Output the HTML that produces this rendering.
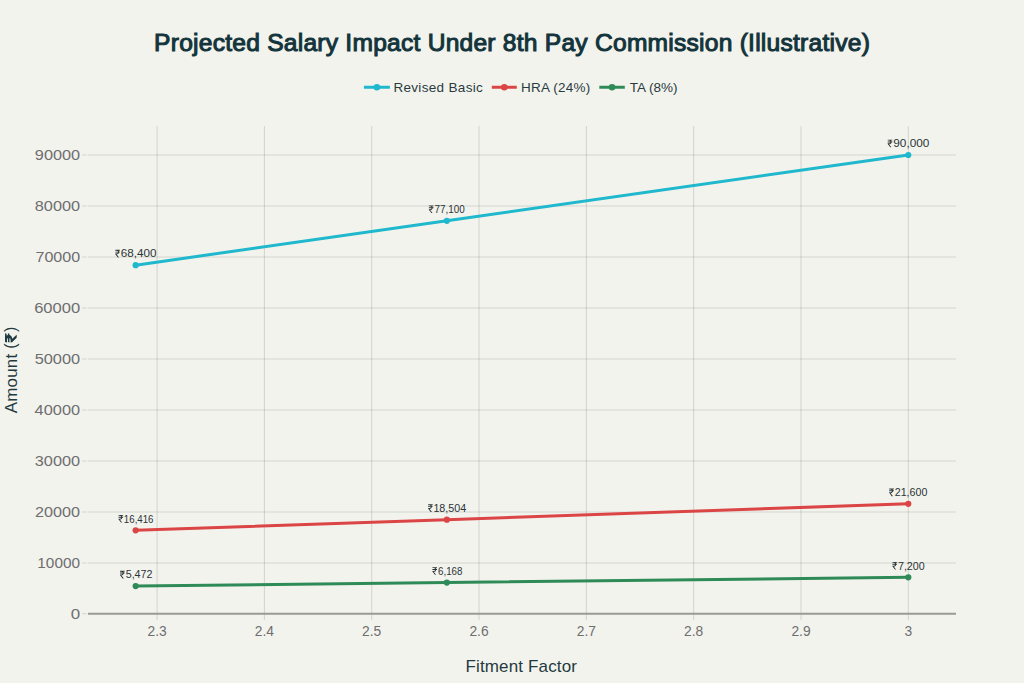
<!DOCTYPE html>
<html><head><meta charset="utf-8"><title>Projected Salary Impact</title>
<style>html,body{margin:0;padding:0;background:#F3F3EE;width:1024px;height:683px;overflow:hidden}</style>
</head><body>

<svg width="1024" height="683" viewBox="0 0 1024 683" style="display:block">
<rect width="1024" height="683" fill="#F3F3EE"/>
<line x1="88" y1="563" x2="956" y2="563" stroke="rgba(60,60,50,0.17)" stroke-width="1"/>
<line x1="88" y1="512" x2="956" y2="512" stroke="rgba(60,60,50,0.17)" stroke-width="1"/>
<line x1="88" y1="461" x2="956" y2="461" stroke="rgba(60,60,50,0.17)" stroke-width="1"/>
<line x1="88" y1="410" x2="956" y2="410" stroke="rgba(60,60,50,0.17)" stroke-width="1"/>
<line x1="88" y1="359" x2="956" y2="359" stroke="rgba(60,60,50,0.17)" stroke-width="1"/>
<line x1="88" y1="308" x2="956" y2="308" stroke="rgba(60,60,50,0.17)" stroke-width="1"/>
<line x1="88" y1="257" x2="956" y2="257" stroke="rgba(60,60,50,0.17)" stroke-width="1"/>
<line x1="88" y1="206" x2="956" y2="206" stroke="rgba(60,60,50,0.17)" stroke-width="1"/>
<line x1="88" y1="155" x2="956" y2="155" stroke="rgba(60,60,50,0.17)" stroke-width="1"/>
<line x1="82" y1="613.8" x2="87" y2="613.8" stroke="rgba(60,60,50,0.17)" stroke-width="1"/>
<line x1="82" y1="563" x2="87" y2="563" stroke="rgba(60,60,50,0.17)" stroke-width="1"/>
<line x1="82" y1="512" x2="87" y2="512" stroke="rgba(60,60,50,0.17)" stroke-width="1"/>
<line x1="82" y1="461" x2="87" y2="461" stroke="rgba(60,60,50,0.17)" stroke-width="1"/>
<line x1="82" y1="410" x2="87" y2="410" stroke="rgba(60,60,50,0.17)" stroke-width="1"/>
<line x1="82" y1="359" x2="87" y2="359" stroke="rgba(60,60,50,0.17)" stroke-width="1"/>
<line x1="82" y1="308" x2="87" y2="308" stroke="rgba(60,60,50,0.17)" stroke-width="1"/>
<line x1="82" y1="257" x2="87" y2="257" stroke="rgba(60,60,50,0.17)" stroke-width="1"/>
<line x1="82" y1="206" x2="87" y2="206" stroke="rgba(60,60,50,0.17)" stroke-width="1"/>
<line x1="82" y1="155" x2="87" y2="155" stroke="rgba(60,60,50,0.17)" stroke-width="1"/>
<line x1="157.10" y1="126" x2="157.10" y2="620" stroke="rgba(60,60,50,0.17)" stroke-width="1"/>
<line x1="264.41" y1="126" x2="264.41" y2="620" stroke="rgba(60,60,50,0.17)" stroke-width="1"/>
<line x1="371.73" y1="126" x2="371.73" y2="620" stroke="rgba(60,60,50,0.17)" stroke-width="1"/>
<line x1="479.04" y1="126" x2="479.04" y2="620" stroke="rgba(60,60,50,0.17)" stroke-width="1"/>
<line x1="586.36" y1="126" x2="586.36" y2="620" stroke="rgba(60,60,50,0.17)" stroke-width="1"/>
<line x1="693.67" y1="126" x2="693.67" y2="620" stroke="rgba(60,60,50,0.17)" stroke-width="1"/>
<line x1="800.99" y1="126" x2="800.99" y2="620" stroke="rgba(60,60,50,0.17)" stroke-width="1"/>
<line x1="908.30" y1="126" x2="908.30" y2="620" stroke="rgba(60,60,50,0.17)" stroke-width="1"/>
<line x1="88" y1="613.8" x2="956" y2="613.8" stroke="#9A9A94" stroke-width="2"/>
<text transform="translate(70.64,619.00) scale(1.2190,1)" font-family='"Liberation Sans", sans-serif' font-size="13.9" fill="#6E6E6E" >0</text>
<text transform="translate(37.33,568.00) scale(1.1066,1)" font-family='"Liberation Sans", sans-serif' font-size="13.9" fill="#6E6E6E" >10000</text>
<text transform="translate(35.09,517.00) scale(1.1654,1)" font-family='"Liberation Sans", sans-serif' font-size="13.9" fill="#6E6E6E" >20000</text>
<text transform="translate(34.78,466.00) scale(1.1735,1)" font-family='"Liberation Sans", sans-serif' font-size="13.9" fill="#6E6E6E" >30000</text>
<text transform="translate(34.62,415.00) scale(1.1775,1)" font-family='"Liberation Sans", sans-serif' font-size="13.9" fill="#6E6E6E" >40000</text>
<text transform="translate(34.64,364.00) scale(1.1770,1)" font-family='"Liberation Sans", sans-serif' font-size="13.9" fill="#6E6E6E" >50000</text>
<text transform="translate(34.16,313.00) scale(1.1897,1)" font-family='"Liberation Sans", sans-serif' font-size="13.9" fill="#6E6E6E" >60000</text>
<text transform="translate(35.48,262.00) scale(1.1552,1)" font-family='"Liberation Sans", sans-serif' font-size="13.9" fill="#6E6E6E" >70000</text>
<text transform="translate(34.79,211.00) scale(1.1732,1)" font-family='"Liberation Sans", sans-serif' font-size="13.9" fill="#6E6E6E" >80000</text>
<text transform="translate(34.84,160.00) scale(1.1720,1)" font-family='"Liberation Sans", sans-serif' font-size="13.9" fill="#6E6E6E" >90000</text>
<text x="157.1" y="635.8" text-anchor="middle" font-family='"Liberation Sans", sans-serif' font-size="13.8" fill="#6E6E6E">2.3</text>
<text x="264.4" y="635.8" text-anchor="middle" font-family='"Liberation Sans", sans-serif' font-size="13.8" fill="#6E6E6E">2.4</text>
<text x="371.7" y="635.8" text-anchor="middle" font-family='"Liberation Sans", sans-serif' font-size="13.8" fill="#6E6E6E">2.5</text>
<text x="479.0" y="635.8" text-anchor="middle" font-family='"Liberation Sans", sans-serif' font-size="13.8" fill="#6E6E6E">2.6</text>
<text x="586.4" y="635.8" text-anchor="middle" font-family='"Liberation Sans", sans-serif' font-size="13.8" fill="#6E6E6E">2.7</text>
<text x="693.7" y="635.8" text-anchor="middle" font-family='"Liberation Sans", sans-serif' font-size="13.8" fill="#6E6E6E">2.8</text>
<text x="801.0" y="635.8" text-anchor="middle" font-family='"Liberation Sans", sans-serif' font-size="13.8" fill="#6E6E6E">2.9</text>
<text x="908.3" y="635.8" text-anchor="middle" font-family='"Liberation Sans", sans-serif' font-size="13.8" fill="#6E6E6E">3</text>
<text x="465.41" y="671.90" font-family='"Liberation Sans", sans-serif' font-size="17" letter-spacing="0.154" fill="#1F3A40" >Fitment Factor</text>
<g transform="translate(17.4,413.6) rotate(-90)"><text x="0.37" y="0.00" font-family='"Liberation Sans", sans-serif' font-size="17" letter-spacing="0.154" fill="#1F3A40" >Amount</text><text x="64.81" y="-1.50" font-family='"Liberation Sans", sans-serif' font-size="16" letter-spacing="0.000" fill="#1F3A40" >(</text><path d="M1099 1121H892C882 1183 862 1239 830 1286H1045L1100 1490H132L72 1240H344C468 1240 542 1194 576 1121H125L72 921H584C553 832 472 774 344 774H96L97 596L596 0H930V13L484 561L495 566C735 612 857 734 890 921H1045Z" fill="#1F3A40"  transform="translate(71.000,-0.700) scale(0.009144,-0.007852) translate(-72,0)"/><text x="81.51" y="-1.50" font-family='"Liberation Sans", sans-serif' font-size="16" letter-spacing="0.000" fill="#1F3A40" >)</text></g>
<text x="154.08" y="50.90" font-family='"Liberation Sans", sans-serif' font-size="24.6" letter-spacing="0.235" fill="#13343B" stroke="#13343B" stroke-width="1.05">Projected Salary Impact Under 8th Pay Commission (Illustrative)</text>
<path d="M135.64,265.16 L446.85,220.79 L908.30,155.00" fill="none" stroke="#1FB8CD" stroke-width="3" stroke-linejoin="round"/>
<circle cx="135.64" cy="265.16" r="3.1" fill="#1FB8CD"/>
<circle cx="446.85" cy="220.79" r="3.1" fill="#1FB8CD"/>
<circle cx="908.30" cy="155.00" r="3.1" fill="#1FB8CD"/>
<path d="M135.64,530.28 L446.85,519.63 L908.30,503.84" fill="none" stroke="#DB4545" stroke-width="3" stroke-linejoin="round"/>
<circle cx="135.64" cy="530.28" r="3.1" fill="#DB4545"/>
<circle cx="446.85" cy="519.63" r="3.1" fill="#DB4545"/>
<circle cx="908.30" cy="503.84" r="3.1" fill="#DB4545"/>
<path d="M135.64,586.09 L446.85,582.54 L908.30,577.28" fill="none" stroke="#2E8B57" stroke-width="3" stroke-linejoin="round"/>
<circle cx="135.64" cy="586.09" r="3.1" fill="#2E8B57"/>
<circle cx="446.85" cy="582.54" r="3.1" fill="#2E8B57"/>
<circle cx="908.30" cy="577.28" r="3.1" fill="#2E8B57"/>
<path d="M1053 1137H847C835 1205 809 1267 769 1319L1002 1317L1053 1490H109L58 1319H337C510 1319 611 1252 645 1137H108L58 964H650C620 837 509 774 337 774H73L77 648L606 0H841V12L354 610H359C675 610 821 764 850 964H1002Z" fill="#2A3436"  transform="translate(115.200,257.460) scale(0.004824,-0.005101) translate(-58,0)"/>
<text transform="translate(120.81,257.46) scale(1.0723,1)" font-family='"Liberation Sans", sans-serif' font-size="10.9" fill="#2A3436" >68,400</text>
<path d="M1053 1137H847C835 1205 809 1267 769 1319L1002 1317L1053 1490H109L58 1319H337C510 1319 611 1252 645 1137H108L58 964H650C620 837 509 774 337 774H73L77 648L606 0H841V12L354 610H359C675 610 821 764 850 964H1002Z" fill="#2A3436"  transform="translate(428.750,213.090) scale(0.004824,-0.005101) translate(-58,0)"/>
<text transform="translate(434.44,213.09) scale(0.9072,1)" font-family='"Liberation Sans", sans-serif' font-size="10.9" fill="#2A3436" >77,100</text>
<path d="M1053 1137H847C835 1205 809 1267 769 1319L1002 1317L1053 1490H109L58 1319H337C510 1319 611 1252 645 1137H108L58 964H650C620 837 509 774 337 774H73L77 648L606 0H841V12L354 610H359C675 610 821 764 850 964H1002Z" fill="#2A3436"  transform="translate(887.600,147.300) scale(0.004824,-0.005101) translate(-58,0)"/>
<text transform="translate(893.25,147.30) scale(1.0833,1)" font-family='"Liberation Sans", sans-serif' font-size="10.9" fill="#2A3436" >90,000</text>
<path d="M1053 1137H847C835 1205 809 1267 769 1319L1002 1317L1053 1490H109L58 1319H337C510 1319 611 1252 645 1137H108L58 964H650C620 837 509 774 337 774H73L77 648L606 0H841V12L354 610H359C675 610 821 764 850 964H1002Z" fill="#2A3436"  transform="translate(118.400,522.578) scale(0.004824,-0.005101) translate(-58,0)"/>
<text transform="translate(123.86,522.58) scale(0.8898,1)" font-family='"Liberation Sans", sans-serif' font-size="10.9" fill="#2A3436" >16,416</text>
<path d="M1053 1137H847C835 1205 809 1267 769 1319L1002 1317L1053 1490H109L58 1319H337C510 1319 611 1252 645 1137H108L58 964H650C620 837 509 774 337 774H73L77 648L606 0H841V12L354 610H359C675 610 821 764 850 964H1002Z" fill="#2A3436"  transform="translate(428.000,511.930) scale(0.004824,-0.005101) translate(-58,0)"/>
<text transform="translate(433.38,511.93) scale(0.9848,1)" font-family='"Liberation Sans", sans-serif' font-size="10.9" fill="#2A3436" >18,504</text>
<path d="M1053 1137H847C835 1205 809 1267 769 1319L1002 1317L1053 1490H109L58 1319H337C510 1319 611 1252 645 1137H108L58 964H650C620 837 509 774 337 774H73L77 648L606 0H841V12L354 610H359C675 610 821 764 850 964H1002Z" fill="#2A3436"  transform="translate(889.100,496.140) scale(0.004824,-0.005101) translate(-58,0)"/>
<text transform="translate(894.76,496.14) scale(0.9795,1)" font-family='"Liberation Sans", sans-serif' font-size="10.9" fill="#2A3436" >21,600</text>
<path d="M1053 1137H847C835 1205 809 1267 769 1319L1002 1317L1053 1490H109L58 1319H337C510 1319 611 1252 645 1137H108L58 964H650C620 837 509 774 337 774H73L77 648L606 0H841V12L354 610H359C675 610 821 764 850 964H1002Z" fill="#2A3436"  transform="translate(119.900,578.393) scale(0.004824,-0.005101) translate(-58,0)"/>
<text transform="translate(125.67,578.39) scale(0.9851,1)" font-family='"Liberation Sans", sans-serif' font-size="10.9" fill="#2A3436" >5,472</text>
<path d="M1053 1137H847C835 1205 809 1267 769 1319L1002 1317L1053 1490H109L58 1319H337C510 1319 611 1252 645 1137H108L58 964H650C620 837 509 774 337 774H73L77 648L606 0H841V12L354 610H359C675 610 821 764 850 964H1002Z" fill="#2A3436"  transform="translate(432.300,574.843) scale(0.004824,-0.005101) translate(-58,0)"/>
<text transform="translate(438.00,574.84) scale(0.8953,1)" font-family='"Liberation Sans", sans-serif' font-size="10.9" fill="#2A3436" >6,168</text>
<path d="M1053 1137H847C835 1205 809 1267 769 1319L1002 1317L1053 1490H109L58 1319H337C510 1319 611 1252 645 1137H108L58 964H650C620 837 509 774 337 774H73L77 648L606 0H841V12L354 610H359C675 610 821 764 850 964H1002Z" fill="#2A3436"  transform="translate(892.300,569.580) scale(0.004824,-0.005101) translate(-58,0)"/>
<text transform="translate(897.95,569.58) scale(0.9813,1)" font-family='"Liberation Sans", sans-serif' font-size="10.9" fill="#2A3436" >7,200</text>
<line x1="363.9" y1="87.25" x2="389.9" y2="87.25" stroke="#1FB8CD" stroke-width="3"/>
<circle cx="376.90" cy="87.25" r="3.3" fill="#1FB8CD"/>
<text x="393.39" y="92.40" font-family='"Liberation Sans", sans-serif' font-size="13.5" letter-spacing="0.327" fill="#2A3B3F" >Revised Basic</text>
<line x1="491.8" y1="87.25" x2="516.8" y2="87.25" stroke="#DB4545" stroke-width="3"/>
<circle cx="504.30" cy="87.25" r="3.3" fill="#DB4545"/>
<text x="520.99" y="92.40" font-family='"Liberation Sans", sans-serif' font-size="13.5" letter-spacing="0.210" fill="#2A3B3F" >HRA (24%)</text>
<line x1="599.3" y1="87.25" x2="624.8" y2="87.25" stroke="#2E8B57" stroke-width="3"/>
<circle cx="612.05" cy="87.25" r="3.3" fill="#2E8B57"/>
<text x="629.70" y="92.40" font-family='"Liberation Sans", sans-serif' font-size="13.5" letter-spacing="0.006" fill="#2A3B3F" >TA (8%)</text>
</svg>
</body></html>
